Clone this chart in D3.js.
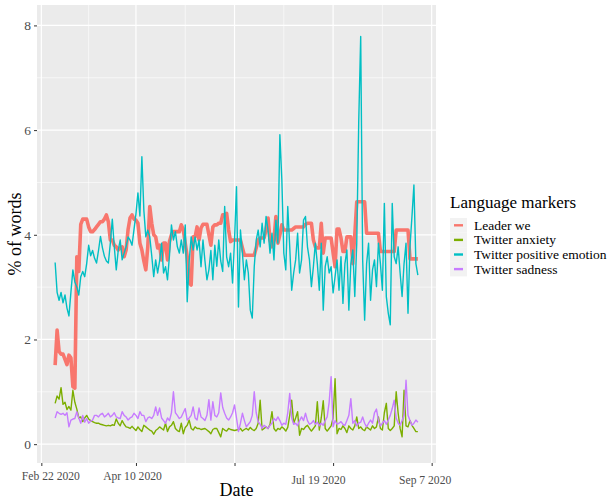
<!DOCTYPE html>
<html>
<head>
<meta charset="utf-8">
<script src="https://cdn.jsdelivr.net/npm/d3@7"></script>
<style>
  html, body { margin: 0; padding: 0; background: #ffffff; }
  svg { display: block; }
  text { font-family: "Liberation Serif", "Times New Roman", serif; }
</style>
</head>
<body>
<svg id="chart" width="610" height="499"></svg>
<script>
// Daily series, one value per day starting 29 Feb 2020
const startDate = "2020-02-29";

const seriesNames = ["Leader we", "Twitter anxiety", "Twitter positive emotion", "Twitter sadness"];
const seriesColors = ["#F8766D", "#7CAE00", "#00BFC4", "#C77CFF"];

const leaderWe = [
  1.51, 2.18, 1.77, 1.72, 1.72, 1.62, 1.52, 1.70, 1.65, 1.10,
  1.07, 3.58, 3.30, 4.20, 4.30, 4.30, 4.30, 4.15, 4.06, 4.06,
  4.10, 4.15, 4.20, 4.25, 4.25, 4.30, 4.38, 4.25, 3.90, 3.90,
  3.80, 3.77, 3.71, 3.75, 3.77, 3.58, 3.71, 4.10, 4.32, 4.38,
  4.30, 4.28, 4.22, 3.84, 3.71, 3.50, 3.33, 3.77, 4.54, 4.22,
  4.00, 3.96, 3.75, 3.80, 3.52, 3.84, 3.84, 3.52, 3.87, 4.00,
  4.06, 4.06, 4.06, 4.06, 4.19, 4.10, 3.84, 3.58, 3.08, 3.04,
  3.96, 3.96, 4.15, 3.90, 4.13, 4.20, 4.20, 4.20, 4.00, 3.80,
  4.15, 4.19, 4.19, 4.22, 4.22, 4.38, 4.38, 4.41, 4.09, 3.87,
  3.90, 3.90, 3.90, 3.90, 3.90, 3.75, 3.61, 3.61, 3.61, 3.61,
  3.61, 3.61, 3.75, 3.90, 3.94, 3.94, 3.94, 4.10, 4.32, 3.90,
  3.77, 3.90, 4.35, 3.84, 4.00, 4.19, 4.09, 4.09, 4.09, 4.09,
  4.09, 4.12, 4.15, 4.15, 4.15, 4.15, 4.15, 4.20, 4.22, 4.22,
  4.22, 3.90, 3.77, 3.75, 3.75, 4.22, 3.65, 3.94, 3.94, 3.94,
  3.94, 3.65, 3.39, 4.11, 4.11, 3.94, 3.68, 3.68, 3.96, 3.96,
  3.96, 3.45, 4.00, 4.63, 4.63, 4.63, 4.63, 4.63, 4.03, 4.03,
  4.03, 4.03, 4.03, 4.03, 4.03, 3.68, 3.68, 3.68, 3.68, 3.68,
  3.68, 3.68, 3.68, 4.09, 4.09, 4.09, 4.09, 4.09, 4.09, 4.09,
  3.54, 3.54, 3.54, 3.54, 3.54
];

const twitterAnxiety = [
  0.78, 0.92, 0.86, 1.08, 0.76, 0.80, 0.66, 0.72, 0.65, 1.03,
  0.80, 0.67, 0.50, 0.52, 0.43, 0.50, 0.55, 0.48, 0.45, 0.43,
  0.41, 0.40, 0.40, 0.38, 0.37, 0.36, 0.35, 0.36, 0.35, 0.37,
  0.36, 0.48, 0.40, 0.35, 0.45, 0.38, 0.33, 0.32, 0.30, 0.34,
  0.30, 0.26, 0.33, 0.28, 0.24, 0.36, 0.33, 0.30, 0.27, 0.25,
  0.19, 0.26, 0.29, 0.33, 0.30, 0.27, 0.40, 0.24, 0.33, 0.36,
  0.43, 0.30, 0.26, 0.24, 0.40, 0.20, 0.32, 0.36, 0.46, 0.30,
  0.27, 0.33, 0.30, 0.30, 0.28, 0.29, 0.30, 0.27, 0.24, 0.20,
  0.28, 0.30, 0.30, 0.22, 0.14, 0.30, 0.27, 0.25, 0.30, 0.28,
  0.27, 0.26, 0.27, 0.28, 0.30, 0.25, 0.28, 0.30, 0.27, 0.32,
  0.28, 0.26, 0.30, 0.40, 0.84, 0.27, 0.30, 0.33, 0.30, 0.38,
  0.62, 0.30, 0.25, 0.30, 0.28, 0.33, 0.30, 0.25, 0.32, 0.55,
  0.84, 0.40, 0.50, 0.62, 0.17, 0.30, 0.28, 0.33, 0.36, 0.30,
  0.25, 0.30, 0.35, 0.81, 0.27, 0.50, 0.83, 0.30, 0.25, 0.30,
  0.35, 0.50, 1.25, 0.20, 0.30, 0.28, 0.35, 0.30, 0.22, 0.35,
  0.30, 0.27, 0.35, 0.52, 0.30, 0.33, 0.28, 0.26, 0.33, 0.30,
  0.27, 0.35, 0.30, 0.33, 0.52, 0.30, 0.27, 0.60, 0.78, 0.30,
  0.26, 0.30, 0.35, 1.00, 0.59, 0.30, 0.14, 1.03, 0.35, 0.33,
  0.45, 0.36, 0.30, 0.24, 0.24
];

const twitterPositive = [
  3.47, 2.90, 2.75, 2.90, 2.70, 2.85, 2.60, 2.45, 2.90, 3.33,
  3.10, 3.00, 2.85, 3.20, 3.30, 3.20, 3.45, 3.80, 3.60, 3.70,
  3.55, 3.46, 3.70, 3.97, 3.75, 3.59, 3.50, 3.46, 3.84, 4.30,
  3.77, 3.33, 3.70, 3.90, 3.52, 3.65, 3.77, 3.96, 3.90, 3.80,
  4.10, 4.40, 4.80, 4.36, 5.49, 4.47, 3.96, 4.09, 3.96, 3.60,
  3.20, 3.52, 3.27, 3.50, 3.84, 3.27, 3.39, 3.14, 3.60, 4.19,
  3.90, 4.06, 3.77, 3.65, 3.90, 3.65, 4.19, 2.72, 3.50, 3.96,
  3.71, 3.96, 3.71, 3.90, 3.39, 3.90, 3.50, 3.14, 3.33, 3.70,
  3.14, 3.80, 3.40, 3.90, 3.50, 3.30, 4.54, 3.58, 3.39, 3.65,
  3.08, 3.90, 4.92, 2.62, 4.09, 3.65, 3.14, 3.52, 3.27, 2.56,
  2.41, 3.39, 3.90, 4.09, 3.77, 4.22, 3.84, 4.35, 4.09, 3.65,
  4.03, 3.52, 4.28, 3.84, 5.91, 5.05, 3.65, 3.33, 4.54, 3.77,
  2.94, 3.27, 3.52, 4.03, 3.27, 3.52, 4.28, 4.35, 3.77, 3.52,
  3.01, 3.39, 3.84, 3.45, 2.94, 3.84, 2.56, 3.39, 3.58, 3.27,
  3.39, 2.89, 3.20, 3.52, 2.94, 3.58, 2.69, 3.45, 3.71, 2.56,
  3.45, 3.71, 2.82, 3.84, 6.15, 7.79, 3.52, 2.37, 3.45, 3.84,
  2.75, 3.33, 3.52, 3.01, 3.84, 3.45, 2.94, 4.60, 2.82, 2.50,
  2.28, 4.60, 3.58, 3.45, 3.77, 3.27, 2.82, 3.45, 3.84, 2.50,
  3.77, 4.35, 4.95, 3.45, 3.23
];

const twitterSadness = [
  0.50, 0.62, 0.59, 0.57, 0.59, 0.55, 0.60, 0.33, 0.46, 0.48,
  0.49, 0.62, 0.50, 0.40, 0.55, 0.42, 0.49, 0.40, 0.44, 0.46,
  0.55, 0.55, 0.52, 0.57, 0.59, 0.52, 0.55, 0.59, 0.52, 0.55,
  0.60, 0.52, 0.50, 0.49, 0.62, 0.55, 0.52, 0.46, 0.50, 0.52,
  0.59, 0.55, 0.49, 0.62, 0.55, 0.55, 0.43, 0.50, 0.52, 0.49,
  0.55, 0.71, 0.55, 0.69, 0.50, 0.45, 0.40, 0.50, 0.45, 0.60,
  1.00, 0.60, 0.55, 0.49, 0.52, 0.60, 0.68, 0.46, 0.50, 0.55,
  0.71, 0.50, 0.46, 0.69, 0.52, 0.49, 0.45, 0.55, 0.85, 0.46,
  0.81, 0.55, 0.52, 0.60, 0.98, 0.70, 0.59, 0.50, 0.46, 0.52,
  0.60, 0.75, 0.50, 0.24, 0.40, 0.59, 0.45, 0.33, 0.38, 0.43,
  0.55, 1.00, 0.60, 0.43, 0.38, 0.30, 0.36, 0.33, 0.30, 0.36,
  0.40, 0.49, 0.45, 0.52, 0.45, 0.36, 0.40, 0.38, 0.60, 0.97,
  0.50, 0.38, 0.40, 0.35, 0.45, 0.52, 0.45, 0.59, 0.45, 0.38,
  0.40, 0.45, 0.38, 0.42, 0.35, 0.40, 0.36, 0.45, 0.52, 0.80,
  1.29, 0.33, 0.45, 0.38, 0.40, 0.43, 0.38, 0.36, 0.45, 0.55,
  0.87, 0.40, 0.45, 0.35, 0.40, 0.42, 0.52, 0.40, 0.33, 0.40,
  0.46, 0.40, 0.60, 0.67, 0.45, 0.35, 0.40, 0.45, 0.38, 0.46,
  0.55, 0.68, 0.84, 0.50, 0.40, 0.36, 0.45, 0.55, 1.22, 0.55,
  0.45, 0.36, 0.40, 0.46, 0.42
];

const xTickDates = ["2020-02-22", "2020-04-10", "2020-05-30", "2020-07-19", "2020-09-07"];
const xTickLabels = ["Feb 22 2020", "Apr 10 2020", "", "Jul 19 2020", "Sep 7 2020"];
const yTicks = [0, 2, 4, 6, 8];
const yMinorTicks = [1, 3, 5, 7];

// ---- layout ----
const panel = { left: 37, right: 436, top: 5, bottom: 463 };
const svg = d3.select("#chart");

const parse = d3.utcParse("%Y-%m-%d");
const t0 = parse(startDate);
const allValues = [leaderWe, twitterAnxiety, twitterPositive, twitterSadness];
const n = leaderWe.length;
const dates = d3.range(n).map(i => d3.utcDay.offset(t0, i));

// ggplot-style 5% expansion of the date range
const span = dates[n - 1] - dates[0];
const x = d3.scaleUtc()
  .domain([new Date(+dates[0] - span * 0.05), new Date(+dates[n - 1] + span * 0.05)])
  .range([panel.left, panel.right]);

const y = d3.scaleLinear()
  .domain([-0.36, 8.39])
  .range([panel.bottom, panel.top]);

// panel background
svg.append("rect")
  .attr("x", panel.left).attr("y", panel.top)
  .attr("width", panel.right - panel.left)
  .attr("height", panel.bottom - panel.top)
  .attr("fill", "#EBEBEB");

const grid = svg.append("g");
const majorDates = xTickDates.map(parse);
const minorDates = d3.pairs(majorDates).map(([a, b]) => new Date((+a + +b) / 2));

grid.selectAll(".ymin").data(yMinorTicks).join("line")
  .attr("x1", panel.left).attr("x2", panel.right)
  .attr("y1", d => y(d)).attr("y2", d => y(d))
  .attr("stroke", "#ffffff").attr("stroke-width", 0.6);
grid.selectAll(".xmin").data(minorDates).join("line")
  .attr("y1", panel.top).attr("y2", panel.bottom)
  .attr("x1", d => x(d)).attr("x2", d => x(d))
  .attr("stroke", "#ffffff").attr("stroke-width", 0.6);
grid.selectAll(".ymaj").data(yTicks).join("line")
  .attr("x1", panel.left).attr("x2", panel.right)
  .attr("y1", d => y(d)).attr("y2", d => y(d))
  .attr("stroke", "#ffffff").attr("stroke-width", 1.2);
grid.selectAll(".xmaj").data(majorDates).join("line")
  .attr("y1", panel.top).attr("y2", panel.bottom)
  .attr("x1", d => x(d)).attr("x2", d => x(d))
  .attr("stroke", "#ffffff").attr("stroke-width", 1.2);

// series lines
const line = d3.line()
  .x((d, i) => x(dates[i]))
  .y(d => y(d));
const widths = [3.6, 1.4, 1.4, 1.4];

svg.append("clipPath").attr("id", "panel-clip")
  .append("rect")
  .attr("x", panel.left).attr("y", panel.top)
  .attr("width", panel.right - panel.left)
  .attr("height", panel.bottom - panel.top);

const lines = svg.append("g").attr("clip-path", "url(#panel-clip)");
allValues.forEach((vals, k) => {
  lines.append("path")
    .datum(vals)
    .attr("d", line)
    .attr("fill", "none")
    .attr("stroke", seriesColors[k])
    .attr("stroke-width", widths[k])
    .attr("stroke-linejoin", "round")
    .attr("stroke-linecap", "butt");
});

// axes
const tickColor = "#333333";
const labelColor = "#4D4D4D";

const yAxis = svg.append("g")
  .attr("transform", `translate(${panel.left},0)`)
  .call(d3.axisLeft(y).tickValues(yTicks).tickSize(3).tickPadding(3).tickFormat(d3.format("d")));
yAxis.select(".domain").remove();
yAxis.selectAll(".tick line").attr("stroke", tickColor);
yAxis.selectAll(".tick text")
  .attr("fill", labelColor)
  .style("font-size", "13.5px");

const xAxis = svg.append("g")
  .attr("transform", `translate(0,${panel.bottom})`)
  .call(d3.axisBottom(x).tickValues(majorDates).tickSize(3).tickFormat((d, i) => xTickLabels[i]));
xAxis.select(".domain").remove();
xAxis.selectAll(".tick line").attr("stroke", tickColor);

// label placement under each tick (horizontal shift, baseline)
const xLabelShift = [9, -4, 0, -15, -7];
const xLabelBase = [17, 17, 17, 21, 21];
xAxis.selectAll(".tick text")
  .attr("fill", labelColor)
  .attr("dy", null)
  .attr("y", (d, i) => xLabelBase[i])
  .attr("dx", (d, i) => xLabelShift[i])
  .style("font-size", "11.6px");

// axis titles
svg.append("text")
  .attr("x", (panel.left + panel.right) / 2)
  .attr("y", 496)
  .attr("text-anchor", "middle")
  .attr("fill", "#000")
  .style("font-size", "18px")
  .text("Date");

svg.append("text")
  .attr("transform", `translate(21,${(panel.top + panel.bottom) / 2}) rotate(-90)`)
  .attr("text-anchor", "middle")
  .attr("fill", "#000")
  .style("font-size", "18px")
  .text("% of words");

// legend
const legend = svg.append("g").attr("transform", "translate(450,0)");
legend.append("text")
  .attr("x", 0).attr("y", 208)
  .attr("fill", "#000")
  .style("font-size", "17px")
  .text("Language markers");

const keyTop = 218, keyH = 14.6, keyW = 17;
const items = legend.selectAll(".item").data(seriesNames).join("g")
  .attr("transform", (d, i) => `translate(0,${keyTop + i * keyH})`);
items.append("rect")
  .attr("width", keyW).attr("height", keyH)
  .attr("fill", "#F2F2F2");
items.append("line")
  .attr("x1", 4).attr("x2", 13)
  .attr("y1", keyH / 2).attr("y2", keyH / 2)
  .attr("stroke", (d, i) => seriesColors[i])
  .attr("stroke-width", 2.4);
items.append("text")
  .attr("x", 24).attr("y", keyH / 2 + 4.5)
  .attr("fill", "#000")
  .style("font-size", "13.5px")
  .text(d => d);
</script>
</body>
</html>
